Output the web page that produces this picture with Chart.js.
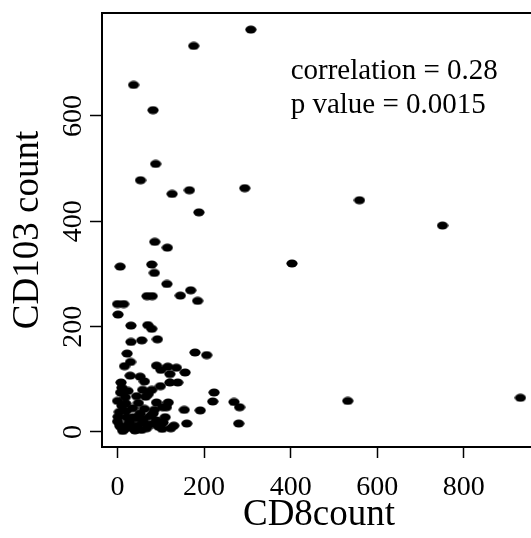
<!DOCTYPE html>
<html>
<head>
<meta charset="utf-8">
<script src="https://cdn.jsdelivr.net/npm/chart.js@4"></script>
<style>
  html, body { margin: 0; padding: 0; background: #fff; overflow: hidden; }
</style>
</head>
<body>
<canvas id="scatter" width="545" height="538"></canvas>
<script>
// values
const cd8Count = [
  308, 176, 37, 82, 88, 53, 126, 166, 294, 188, 559, 751, 86, 115, 403, 6, 79, 85, 114, 169,
  145, 68, 80, 185, 0, 14, 1, 31, 70, 79, 31, 56, 92, 22, 179, 206, 30, 16, 90, 100,
  116, 136, 156, 121, 29, 52, 62, 8, 121, 139, 99, 10, 58, 79, 24, 7, 223, 71, 65, 0,
  19, 220, 269, 282, 532, 931, 90, 117, 104, 113, 62, 154, 191, 4, 82, 52, 1, 21, 36, 48,
  0, 28, 59, 82, 105, 160, 280, 8, 32, 67, 103, 123, 12, 5, 15, 25, 40, 45, 55, 60,
  70, 75, 90, 95, 110, 20, 35, 10, 48, 130, 44, 18, 85
];
const cd103Count = [
  764, 733, 659, 611, 509, 478, 452, 459, 463, 417, 440, 392, 361, 350, 320, 314, 318, 302, 281, 269,
  259, 258, 258, 249, 243, 243, 223, 202, 203, 196, 171, 174, 176, 149, 151, 146, 133, 125, 126, 118,
  124, 122, 113, 110, 107, 105, 96, 94, 94, 94, 87, 84, 80, 80, 78, 75, 75, 72, 67, 59,
  54, 58, 57, 47, 59, 65, 56, 56, 47, 47, 44, 42, 41, 38, 35, 35, 29, 28, 28, 26,
  20, 20, 18, 15, 18, 16, 16, 9, 8, 7, 6, 7, 2, 12, 5, 15, 3, 12, 4, 25,
  14, 30, 22, 10, 28, 40, 45, 50, 55, 12, 68, 66, 42
];
const xTickValues = [0, 200, 400, 600, 800];
const yTickValues = [0, 200, 400, 600];
const statLines = ['correlation = 0.28', 'p value = 0.0015'];

const serif = '"Liberation Serif", "Times New Roman", serif';

// filled ellipse used as the point marker
const dot = document.createElement('canvas');
dot.width = 12;
dot.height = 9;
const dctx = dot.getContext('2d');
dctx.fillStyle = '#000';
dctx.beginPath();
dctx.ellipse(6, 4.5, 5.6, 4, 0, 0, Math.PI * 2);
dctx.fill();

const points = cd8Count.map((x, i) => ({x: x, y: cd103Count[i]}));

const framePlugin = {
  id: 'frame',
  afterDraw(chart) {
    const ctx = chart.ctx;
    const area = chart.chartArea;
    const xs = chart.scales.x;
    const ys = chart.scales.y;
    ctx.save();
    ctx.strokeStyle = '#000';
    ctx.lineWidth = 2;
    ctx.strokeRect(area.left, area.top, area.right - area.left, area.bottom - area.top);

    // y tick labels, turned like the axis
    ctx.fillStyle = '#000';
    ctx.font = '28px ' + serif;
    ctx.textAlign = 'center';
    ctx.textBaseline = 'alphabetic';
    ys.ticks.forEach(t => {
      ctx.save();
      ctx.translate(81, ys.getPixelForValue(t.value));
      ctx.rotate(-Math.PI / 2);
      ctx.fillText(String(t.value), 0, 0);
      ctx.restore();
    });

    // stats text
    ctx.font = '29px ' + serif;
    ctx.textAlign = 'left';
    ctx.fillText(statLines[0], xs.getPixelForValue(400), ys.getPixelForValue(670));
    ctx.fillText(statLines[1], xs.getPixelForValue(400), ys.getPixelForValue(605));
    ctx.restore();
  }
};

new Chart(document.getElementById('scatter'), {
  type: 'scatter',
  data: {
    datasets: [{
      data: points,
      pointStyle: dot,
      pointRadius: 5,
      backgroundColor: '#000',
      borderColor: '#000'
    }]
  },
  options: {
    responsive: false,
    animation: false,
    events: [],
    layout: { padding: { top: 13, right: 9, left: 0, bottom: 0 } },
    plugins: {
      legend: { display: false },
      tooltip: { enabled: false }
    },
    scales: {
      x: {
        type: 'linear',
        min: -36,
        max: 967,
        afterFit: s => { s.height = 91; },
        afterBuildTicks: s => { s.ticks = xTickValues.map(v => ({value: v})); },
        border: { display: false },
        grid: {
          drawOnChartArea: false,
          drawTicks: true,
          tickLength: 11,
          tickWidth: 1.5,
          tickColor: '#000'
        },
        ticks: {
          color: '#000',
          padding: 13,
          maxRotation: 0,
          font: { family: serif, size: 28 }
        },
        title: {
          display: true,
          text: 'CD8count',
          color: '#000',
          font: { family: serif, size: 37 },
          padding: { top: 0, bottom: 1 }
        }
      },
      y: {
        type: 'linear',
        min: -28.5,
        max: 795.5,
        afterFit: s => { s.width = 102; },
        afterBuildTicks: s => { s.ticks = yTickValues.map(v => ({value: v})); },
        border: { display: false },
        grid: {
          drawOnChartArea: false,
          drawTicks: true,
          tickLength: 12,
          tickWidth: 1.5,
          tickColor: '#000'
        },
        ticks: { display: false },
        title: {
          display: true,
          text: 'CD103 count',
          color: '#000',
          font: { family: serif, size: 37 },
          padding: { top: 6, bottom: 0 }
        }
      }
    }
  },
  plugins: [framePlugin]
});
</script>
</body>
</html>
